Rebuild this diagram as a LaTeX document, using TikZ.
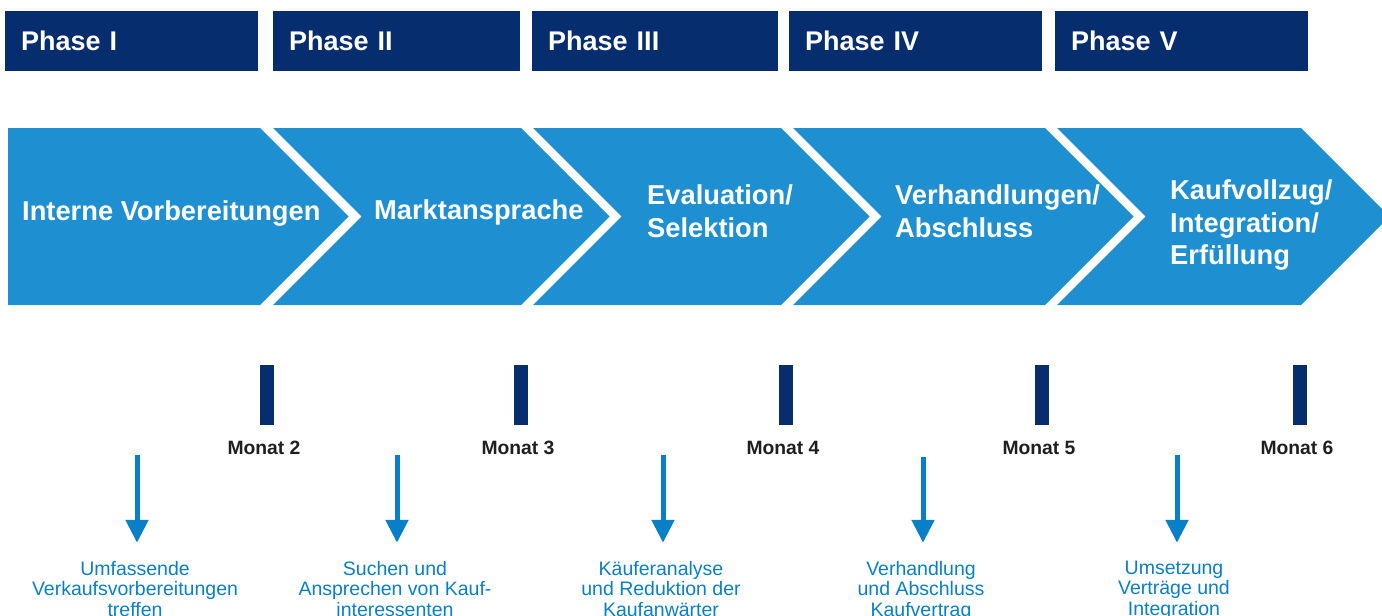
\documentclass[tikz,border=0pt]{standalone}
\usepackage{fontspec}
\setmainfont{Liberation Sans}
\usepackage{xcolor}
\usepackage{tikz}
\usetikzlibrary{positioning,arrows.meta}

\definecolor{navy}{RGB}{6,45,110}
\definecolor{chevblue}{RGB}{30,144,210}
\definecolor{pfeilblue}{RGB}{8,128,200}

\begin{document}
\begin{tikzpicture}[x=1pt, y=-1pt,
    phase/.style={anchor=north west, fill=navy, text=white, minimum height=60.7pt,
        inner xsep=16pt, inner ysep=0pt, align=left, font=\fontsize{27}{32}\selectfont\bfseries},
    chevtext/.style={anchor=north west, text=white, inner sep=0pt, align=left,
        font=\fontsize{27.3}{32.5}\selectfont\bfseries},
    bar/.style={fill=navy, minimum width=14pt, minimum height=60pt, inner sep=0pt},
    monat/.style={inner sep=0pt, text=black!88, font=\fontsize{19.3}{22}\selectfont\bfseries},
    beschr/.style={anchor=north, align=center, text=pfeilblue, inner sep=0pt,
        font=\fontsize{19.5}{20.5}\selectfont},
    pfeil/.style={draw=pfeilblue, line width=5pt, -{Triangle[width=22pt,length=23pt]}, shorten >=18pt}]
    \useasboundingbox (0,0) rectangle (1382,616);
    \clip (0,0) rectangle (1382,616);

    % Phases
    \node[phase, text width=221pt] (p1) at (5,10.5) {Phase I};
    \node[phase, text width=215pt] (p2) at (273,10.5) {Phase II};
    \node[phase, text width=214pt] (p3) at (532,10.5) {Phase III};
    \node[phase, text width=221pt] (p4) at (789,10.5) {Phase IV};
    \node[phase, text width=221pt] (p5) at (1055,10.5) {Phase V};

    % Chevrons
    \fill[chevblue] (8,128) -- (260,128) -- (348.5,216.5) -- (260,305) -- (8,305) -- cycle;
    \fill[chevblue] (273,128) -- (521,128) -- (609.5,216.5) -- (521,305) -- (273,305) -- (361.5,216.5) -- cycle;
    \fill[chevblue] (533,128) -- (781,128) -- (869.5,216.5) -- (781,305) -- (533,305) -- (621.5,216.5) -- cycle;
    \fill[chevblue] (793,128) -- (1045,128) -- (1133.5,216.5) -- (1045,305) -- (793,305) -- (881.5,216.5) -- cycle;
    \fill[chevblue] (1057,128) -- (1301,128) -- (1389.5,216.5) -- (1301,305) -- (1057,305) -- (1145.5,216.5) -- cycle;

    \node[chevtext] (c1) at (22,201) {Interne Vorbereitungen};
    \node[chevtext] (c2) at (374,200) {Marktansprache};
    \node[chevtext] (c3) at (647,185) {Evaluation/\\Selektion};
    \node[chevtext] (c4) at (895,185) {Verhandlungen/\\Abschluss};
    \node[chevtext] (c5) at (1170,180) {Kaufvollzug/\\Integration/\\Erfüllung};

    % Months
    \node[bar] (m2) at (267,395) {};
    \node[bar] (m3) at (521,395) {};
    \node[bar] (m4) at (786,395) {};
    \node[bar] (m5) at (1042,395) {};
    \node[bar] (m6) at (1300,395) {};
    \node[monat, below=16pt of m2, xshift=-3pt] (l2) {Monat 2};
    \node[monat, below=16pt of m3, xshift=-3pt] (l3) {Monat 3};
    \node[monat, below=16pt of m4, xshift=-3pt] (l4) {Monat 4};
    \node[monat, below=16pt of m5, xshift=-3pt] (l5) {Monat 5};
    \node[monat, below=16pt of m6, xshift=-3pt] (l6) {Monat 6};

    % Tasks
    \node[beschr] (d1) at (135,560.8) {Umfassende\\Verkaufsvorbereitungen\\treffen};
    \node[beschr] (d2) at (395,560.8) {Suchen und\\Ansprechen von Kauf-\\interessenten};
    \node[beschr] (d3) at (661,560.8) {Käuferanalyse\\und Reduktion der\\Kaufanwärter};
    \node[beschr] (d4) at (921,560.8) {Verhandlung\\und Abschluss\\Kaufvertrag};
    \node[beschr] (d5) at (1174,560.8) {Umsetzung\\Verträge und\\Integration};

    \coordinate (a1) at (137,455);
    \coordinate (a2) at (397,455);
    \coordinate (a3) at (663,455);
    \coordinate (a4) at (923,457);
    \coordinate (a5) at (1177,455);
    \draw[pfeil] (a1) -- (a1 |- d1.north);
    \draw[pfeil] (a2) -- (a2 |- d2.north);
    \draw[pfeil] (a3) -- (a3 |- d3.north);
    \draw[pfeil] (a4) -- (a4 |- d4.north);
    \draw[pfeil] (a5) -- (a5 |- d5.north);
\end{tikzpicture}
\end{document}
